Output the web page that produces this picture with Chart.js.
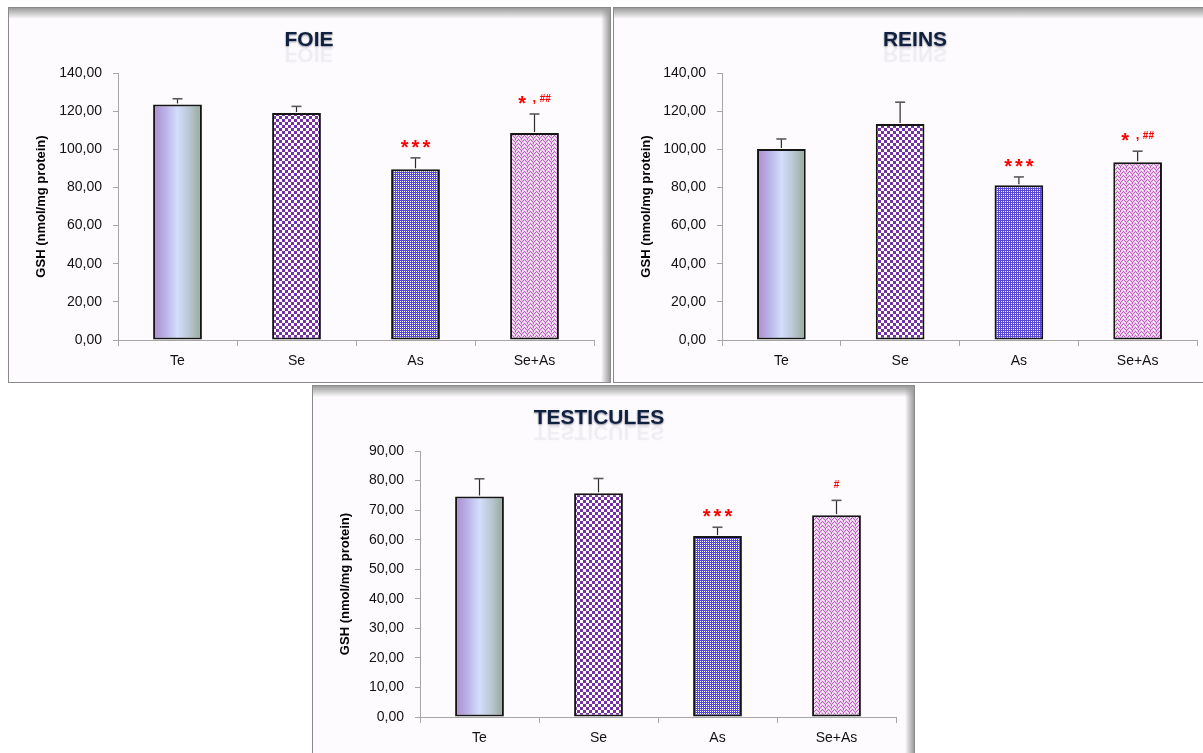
<!DOCTYPE html>
<html>
<head>
<meta charset="utf-8">
<title>GSH</title>
<script src="https://cdn.jsdelivr.net/npm/chart.js@4.4.0/dist/chart.umd.min.js"></script>
<style>
    html, body { margin: 0; padding: 0; background: #ffffff; width: 1203px; height: 753px; overflow: hidden; }
    .panel { position: absolute; border: 1px solid #8a8a8a; background: #fdfbfd; box-sizing: border-box; overflow: hidden; }
    .panel canvas { position: absolute; left: 0; top: 0; }
    .bevel-top { position: absolute; left: 0; right: 0; top: 0; height: 11px; background: linear-gradient(#9c9c9c, rgba(253,251,253,0)); }
    .bevel-right { position: absolute; top: 0; bottom: 0; right: 0; width: 9px; background: linear-gradient(to left, #9c9c9c, rgba(253,251,253,0)); }
</style>
</head>
<body>
<div class="panel" id="p1" style="left:8px; top:7px; width:603px; height:376px;">
    <div class="bevel-top"></div><div class="bevel-right"></div>
    <canvas id="foieChart" width="601" height="374"></canvas>
</div>
<div class="panel" id="p2" style="left:613px; top:7px; width:603px; height:376px;">
    <div class="bevel-top"></div><div class="bevel-right"></div>
    <canvas id="reinsChart" width="601" height="374"></canvas>
</div>
<div class="panel" id="p3" style="left:312px; top:385px; width:603px; height:380px;">
    <div class="bevel-top"></div><div class="bevel-right"></div>
    <canvas id="testChart" width="601" height="367"></canvas>
</div>
<script>
// Data
const categories = ['Te', 'Se', 'As', 'Se+As'];

const foieValues = [123.5, 119.0, 89.5, 108.5];
const foieErrors = [3.0, 3.5, 6.0, 10.0];
const foieMarks = ['', '', '***', '* , ##'];
const foieTicks = [0, 20, 40, 60, 80, 100, 120, 140];

const reinsValues = [100.2, 113.2, 81.2, 93.2];
const reinsErrors = [5.2, 11.5, 4.3, 5.8];
const reinsMarks = ['', '', '***', '* , ##'];
const reinsTicks = [0, 20, 40, 60, 80, 100, 120, 140];

const testValues = [74.6, 75.7, 61.2, 68.3];
const testErrors = [6.0, 5.0, 3.0, 5.0];
const testMarks = ['', '', '***', '#'];
const testTicks = [0, 10, 20, 30, 40, 50, 60, 70, 80, 90];

const FONT = '"Liberation Sans", Arial, sans-serif';

// Fill patterns
function makeTile(w, h, draw) {
    const c = document.createElement('canvas');
    c.width = w;
    c.height = h;
    const g = c.getContext('2d');
    draw(g);
    return g.createPattern(c, 'repeat');
}

const sePattern = makeTile(6, 6, function(g) {
    g.fillStyle = '#ffffff';
    g.fillRect(0, 0, 6, 6);
    g.fillStyle = '#7431a6';
    g.fillRect(0, 0, 3, 3);
    g.fillRect(3, 3, 3, 3);
});

const asPattern = makeTile(2, 2, function(g) {
    g.fillStyle = '#5848d4';
    g.fillRect(0, 0, 2, 2);
    g.fillStyle = '#ffffff';
    g.fillRect(1, 1, 1, 1);
});

const seAsPattern = makeTile(6, 4, function(g) {
    g.fillStyle = '#ecc8ed';
    g.fillRect(0, 0, 6, 4);
    g.fillStyle = '#b860bb';
    // zig-zag pixels
    g.fillRect(0, 0, 1, 1);
    g.fillRect(1, 1, 1, 1);
    g.fillRect(2, 2, 1, 1);
    g.fillRect(3, 1, 1, 1);
    g.fillRect(4, 0, 1, 1);
    g.fillRect(5, 3, 1, 1);
    g.fillRect(2, 3, 1, 1);
    g.fillStyle = '#ffffff';
    g.fillRect(5, 1, 1, 1);
    g.fillRect(0, 2, 1, 1);
    g.fillRect(3, 3, 1, 1);
});

const BAR_PCT = 0.41;

function barFill(context) {
    const chart = context.chart;
    const i = context.dataIndex;
    if (i === 1) return sePattern;
    if (i === 2) return asPattern;
    if (i === 3) return seAsPattern;
    // Te: horizontal gradient across the bar
    const xScale = chart.scales.x;
    if (!xScale || !chart.chartArea) return '#c0b8e0';
    const cx = xScale.getPixelForValue(i);
    const w = (chart.chartArea.width / categories.length) * BAR_PCT;
    const grad = chart.ctx.createLinearGradient(cx - w / 2, 0, cx + w / 2, 0);
    grad.addColorStop(0, '#ad8ccd');
    grad.addColorStop(0.25, '#b9b2e8');
    grad.addColorStop(0.5, '#d3defc');
    grad.addColorStop(0.75, '#b8c6d2');
    grad.addColorStop(1, '#95a794');
    return grad;
}

function drawTitle(ctx, text, x, y) {
    ctx.save();
    ctx.font = 'bold 21px ' + FONT;
    ctx.textAlign = 'center';
    ctx.textBaseline = 'alphabetic';
    // faint blurred reflection
    ctx.save();
    ctx.translate(0, 2 * y + 2);
    ctx.scale(1, -1);
    ctx.globalAlpha = 0.05;
    ctx.shadowColor = 'rgba(0, 0, 0, 0.6)';
    ctx.shadowBlur = 3;
    ctx.fillStyle = '#1f3864';
    ctx.fillText(text, x, y);
    ctx.restore();
    ctx.shadowColor = 'rgba(0, 0, 40, 0.45)';
    ctx.shadowBlur = 2;
    ctx.shadowOffsetY = 1;
    ctx.fillStyle = '#10213f';
    ctx.fillText(text, x, y);
    ctx.restore();
}

function drawMark(ctx, mark, x, y) {
    if (!mark) return;
    // '*' drawn large, '#' drawn small and raised
    const parts = [];
    for (const ch of mark) {
        if (ch === '*') parts.push({ t: ch, font: 'bold 20px ' + FONT, dy: 8, gap: 3 });
        else if (ch === '#') parts.push({ t: ch, font: 'bold 10px ' + FONT, dy: 0, gap: 0 });
        else parts.push({ t: ch, font: 'bold 13px ' + FONT, dy: 0, gap: 0 });
    }
    ctx.save();
    ctx.fillStyle = '#ff0000';
    ctx.textBaseline = 'alphabetic';
    let total = 0;
    parts.forEach(p => { ctx.font = p.font; p.w = ctx.measureText(p.t).width + p.gap; total += p.w; });
    let cx = x - total / 2 + (parts[parts.length - 1].gap / 2);
    parts.forEach(p => {
        ctx.font = p.font;
        ctx.textAlign = 'left';
        ctx.fillText(p.t, cx, y + p.dy);
        cx += p.w;
    });
    ctx.restore();
}

function makeChart(canvasId, opts) {
    const canvas = document.getElementById(canvasId);
    const H = canvas.height;
    const W = canvas.width;

    const extras = {
        id: 'extras',
        afterDatasetsDraw(chart) {
            const ctx = chart.ctx;
            const meta = chart.getDatasetMeta(0);
            const yScale = chart.scales.y;
            ctx.save();
            meta.data.forEach((bar, i) => {
                const yBar = yScale.getPixelForValue(opts.values[i]);
                const yTop = yScale.getPixelForValue(opts.values[i] + opts.errors[i]);
                ctx.strokeStyle = '#2b2b2b';
                ctx.lineWidth = 1.2;
                ctx.beginPath();
                ctx.moveTo(bar.x, yBar - 1);
                ctx.lineTo(bar.x, yTop);
                ctx.stroke();
                ctx.strokeStyle = '#5a5a5a';
                ctx.lineWidth = 1.6;
                ctx.beginPath();
                ctx.moveTo(bar.x - 5, yTop);
                ctx.lineTo(bar.x + 5, yTop);
                ctx.stroke();
                drawMark(ctx, opts.marks[i], bar.x, yTop - 12);
            });
            ctx.restore();
        },
        afterDraw(chart) {
            drawTitle(chart.ctx, opts.title, opts.titleX, 38);
        }
    };

    return new Chart(canvas.getContext('2d'), {
        type: 'bar',
        data: {
            labels: categories,
            datasets: [{
                data: opts.values,
                backgroundColor: barFill,
                borderColor: '#151515',
                borderWidth: 2,
                borderSkipped: false,
                barPercentage: BAR_PCT,
                categoryPercentage: 1.0
            }]
        },
        options: {
            responsive: false,
            animation: false,
            layout: {
                padding: { left: 0, top: opts.top, right: W - opts.right, bottom: 0 }
            },
            plugins: {
                legend: { display: false },
                tooltip: { enabled: false },
                title: { display: false }
            },
            scales: {
                x: {
                    offset: true,
                    grid: { display: true, offset: true, drawOnChartArea: false, drawTicks: true, tickLength: 6, color: '#a6a6a6' },
                    border: { display: true, color: '#a6a6a6', width: 1 },
                    ticks: { color: '#111111', font: { family: FONT, size: 14 }, padding: 7 },
                    afterFit(scale) { scale.height = H - opts.bottom; }
                },
                y: {
                    min: 0,
                    max: opts.ticks[opts.ticks.length - 1],
                    afterBuildTicks(scale) { scale.ticks = opts.ticks.map(v => ({ value: v })); },
                    grid: { display: true, drawOnChartArea: false, drawTicks: true, tickLength: 5, color: '#a6a6a6' },
                    border: { display: true, color: '#a6a6a6', width: 1 },
                    ticks: {
                        color: '#111111',
                        font: { family: FONT, size: 14 },
                        padding: 11,
                        callback: v => v.toFixed(2).replace('.', ',')
                    },
                    title: {
                        display: true,
                        text: 'GSH (nmol/mg protein)',
                        color: '#000000',
                        font: { family: FONT, size: 13, weight: 'bold' },
                        padding: { top: 25, bottom: 0 }
                    },
                    afterFit(scale) { scale.width = opts.left; }
                }
            }
        },
        plugins: [extras]
    });
}

document.addEventListener('DOMContentLoaded', function() {
    makeChart('foieChart', {
        title: 'FOIE', titleX: 300,
        values: foieValues, errors: foieErrors, marks: foieMarks, ticks: foieTicks,
        left: 109, top: 65, right: 585, bottom: 332
    });
    makeChart('reinsChart', {
        title: 'REINS', titleX: 301,
        values: reinsValues, errors: reinsErrors, marks: reinsMarks, ticks: reinsTicks,
        left: 108, top: 65, right: 583, bottom: 332
    });
    makeChart('testChart', {
        title: 'TESTICULES', titleX: 286,
        values: testValues, errors: testErrors, marks: testMarks, ticks: testTicks,
        left: 107, top: 65, right: 583, bottom: 331
    });
});
</script>
</body>
</html>
